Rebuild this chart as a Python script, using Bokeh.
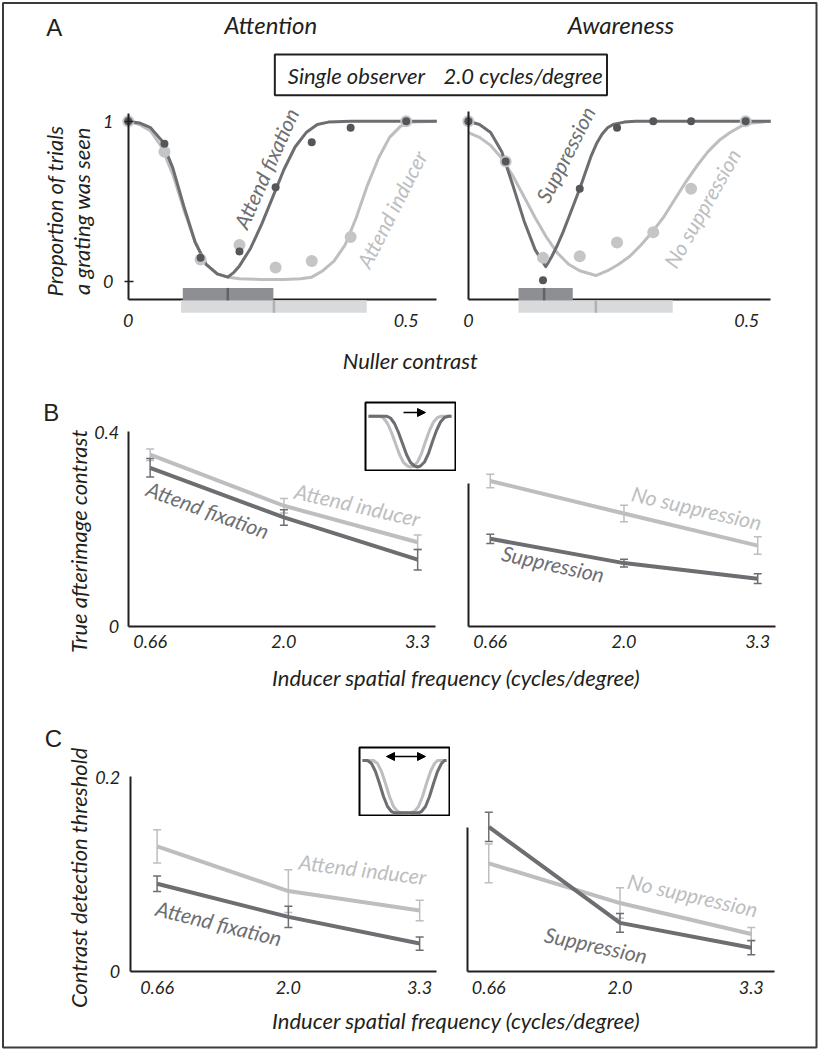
import math
from bokeh.plotting import figure
from bokeh.models import (Range1d, LinearAxis, FixedTicker, GridBox, Arrow, NormalHead,
                          Whisker, TeeHead, ColumnDataSource)
from bokeh.core.properties import value
from bokeh.embed import file_html
from bokeh.resources import INLINE

# ------------------------------------------------------------------ DATA
# Panel A: single observer, 2.0 cycles/degree; nuller contrast vs proportion seen
att_x = [0, 0.065, 0.13, 0.2, 0.265, 0.33, 0.4, 0.5]
att_fix_seen = [1.0, 0.86, 0.15, 0.19, 0.59, 0.87, 0.96, 1.0]
att_ind_seen = [1.0, 0.81, 0.14, 0.23, 0.09, 0.13, 0.28, 1.0]
aw_x = [0, 0.067, 0.134, 0.2, 0.267, 0.332, 0.4, 0.498]
supp_seen = [1.0, 0.75, 0.01, 0.58, 0.96, 1.0, 1.0, 1.0]
nosupp_seen = [1.0, 0.75, 0.15, 0.16, 0.245, 0.31, 0.58, 1.0]

# fitted curves
att_fix_fit_x = [0, 0.02, 0.04, 0.06, 0.08, 0.10, 0.12, 0.14, 0.16, 0.179, 0.19, 0.20, 0.22,
                 0.24, 0.26, 0.28, 0.30, 0.32, 0.34, 0.36, 0.40, 0.555]
att_fix_fit_y = [1.0, 0.99, 0.96, 0.88, 0.71, 0.47, 0.25, 0.11, 0.05, 0.03, 0.06, 0.10, 0.21,
                 0.36, 0.53, 0.70, 0.84, 0.93, 0.98, 0.995, 1.0, 1.0]
att_ind_fit_x = [0, 0.02, 0.04, 0.06, 0.08, 0.10, 0.12, 0.14, 0.16, 0.18, 0.20, 0.24, 0.28,
                 0.31, 0.33, 0.35, 0.37, 0.39, 0.41, 0.43, 0.45, 0.47, 0.49, 0.51, 0.555]
att_ind_fit_y = [1.0, 0.98, 0.94, 0.84, 0.67, 0.45, 0.25, 0.11, 0.05, 0.03, 0.02, 0.015, 0.015,
                 0.02, 0.03, 0.07, 0.13, 0.23, 0.40, 0.60, 0.77, 0.90, 0.97, 0.995, 1.0]
supp_fit_x = [0, 0.02, 0.04, 0.06, 0.08, 0.10, 0.12, 0.139, 0.15, 0.16, 0.17, 0.18, 0.19, 0.20,
              0.21, 0.22, 0.23, 0.24, 0.25, 0.26, 0.28, 0.30, 0.543]
supp_fit_y = [1.0, 0.98, 0.93, 0.81, 0.60, 0.38, 0.20, 0.095, 0.16, 0.23, 0.31, 0.40, 0.49, 0.58,
              0.68, 0.78, 0.86, 0.92, 0.96, 0.98, 0.995, 1.0, 1.0]
nosupp_fit_x = [0, 0.02, 0.04, 0.06, 0.08, 0.10, 0.12, 0.14, 0.16, 0.18, 0.20, 0.229, 0.25, 0.27,
                0.29, 0.31, 0.33, 0.35, 0.37, 0.39, 0.41, 0.43, 0.45, 0.47, 0.49, 0.51, 0.543]
nosupp_fit_y = [0.93, 0.90, 0.85, 0.77, 0.66, 0.53, 0.40, 0.28, 0.18, 0.11, 0.07, 0.04, 0.07, 0.11,
                0.16, 0.23, 0.31, 0.40, 0.51, 0.62, 0.72, 0.81, 0.88, 0.93, 0.97, 0.99, 1.0]

# null ranges under the axis: (low, centre, high)
att_fix_null = [0.098, 0.179, 0.261]
att_ind_null = [0.095, 0.262, 0.429]
supp_null = [0.09, 0.136, 0.1875]
nosupp_null = [0.09, 0.229, 0.367]

# Panels B and C: inducer spatial frequency
sf_labels = ["0.66", "2.0", "3.3"]
sf_pos = [0, 1, 2]

b_att_fix = [0.327, 0.225, 0.138]
b_att_fix_err = [0.019, 0.016, 0.021]
b_att_ind = [0.354, 0.249, 0.174]
b_att_ind_err = [0.012, 0.015, 0.015]
b_supp = [0.181, 0.131, 0.099]
b_supp_err = [0.0095, 0.008, 0.010]
b_nosupp = [0.300, 0.233, 0.167]
b_nosupp_err = [0.014, 0.017, 0.018]

c_att_fix = [0.0905, 0.0565, 0.029]
c_att_fix_err = [0.008, 0.011, 0.0068]
c_att_ind = [0.129, 0.083, 0.063]
c_att_ind_err = [0.017, 0.022, 0.0105]
c_supp = [0.149, 0.0503, 0.0248]
c_supp_err = [0.015, 0.0097, 0.0073]
c_nosupp = [0.1115, 0.0707, 0.0388]
c_nosupp_err = [0.020, 0.0157, 0.0068]

# schematic insets (box units)
ib_light_x = [3, 14, 18, 22, 26, 30, 34, 38, 42, 45, 48, 52, 56, 60, 64, 68, 72, 76, 86]
ib_light_y = [54.3, 54.3, 52.5, 47, 38, 27, 16, 8, 4.5, 3.5, 4.5, 8.5, 17, 29, 40, 48.5, 53, 54.3, 54.3]
ib_dark_x = [3, 21, 25, 29, 33, 37, 41, 45, 49, 52, 55, 59, 63, 67, 71, 75, 79, 83, 86]
ib_dark_y = [54.3, 54.3, 52.5, 47, 38, 27, 16, 8, 4.5, 3.5, 4.5, 8.5, 17, 29, 40, 48.5, 53, 54.3, 54.3]
ib_arrow = [38, 60, 58]          # x start, x end, y

ic_dark_x = [3, 8, 12, 16, 20, 24, 28, 32, 35, 40, 50, 59, 62, 66, 70, 74, 78, 82, 85, 87]
ic_dark_y = [55, 55, 52, 44, 32, 19, 9, 4, 2.7, 2.7, 2.7, 2.7, 4, 9, 19, 32, 44, 52, 55, 55]
ic_light_x = [3, 14, 18, 22, 26, 30, 34, 38, 42, 47, 51, 55, 59, 63, 67, 71, 75, 78, 87]
ic_light_y = [55, 55, 52, 44, 32, 19, 9, 4, 2.7, 2.7, 2.7, 4, 9, 19, 32, 44, 52, 55, 55]
ic_arrow = [27, 66, 59]

# ------------------------------------------------------------------ STYLE
FONT = "Lato"
INK = "#231f20"
DARK = "#6d6e71"
LIGHT = "#bcbec0"
DARK_PT = "#55565a"
LIGHT_PT = "#c4c5c7"
PAGE_W, PAGE_H = 819, 1050


def panel(fx0, fy0, fx1, fy1, x0px, xppu, y0px, yppu):
    xr = Range1d((fx0 - x0px) / xppu, (fx1 - x0px) / xppu)
    yr = Range1d((y0px - fy1) / yppu, (y0px - fy0) / yppu)
    f = figure(width=fx1 - fx0, height=fy1 - fy0, x_range=xr, y_range=yr,
               x_axis_location=None, y_axis_location=None, toolbar_location=None,
               output_backend="svg", min_border=0, background_fill_color=None,
               border_fill_color=None, outline_line_color=None)
    f.xgrid.visible = False
    f.ygrid.visible = False
    f.margin = (fy0, 0, 0, fx0)
    return f


def axis(f, where, fixed, bounds, ticks, labels, standoff, tick_in=0, tick_out=0):
    ax = LinearAxis(fixed_location=fixed, bounds=bounds, ticker=FixedTicker(ticks=ticks),
                    major_label_overrides=dict(zip(ticks, labels)),
                    axis_line_color=INK, axis_line_width=2,
                    major_tick_line_color=INK, major_tick_line_width=1.5,
                    major_tick_in=tick_in, major_tick_out=tick_out,
                    minor_tick_in=0, minor_tick_out=0,
                    major_label_standoff=standoff,
                    major_label_text_font=FONT, major_label_text_font_size="18px",
                    major_label_text_font_style="italic", major_label_text_color=INK)
    f.add_layout(ax, where)
    return ax


# ------------------------------------------------------------------ PAGE
page = figure(width=PAGE_W, height=PAGE_H, x_range=Range1d(0, PAGE_W), y_range=Range1d(PAGE_H, 0),
              x_axis_location=None, y_axis_location=None, toolbar_location=None,
              output_backend="svg", min_border=0, outline_line_color=None,
              background_fill_color="white", border_fill_color="white")
page.xgrid.visible = False
page.ygrid.visible = False
page.margin = (0, 0, 0, 0)
page.quad(left=[1.5], right=[817], top=[1.5], bottom=[1048], fill_color=None,
          line_color="#3a3a3a", line_width=2)
page.quad(left=[274], right=[607], top=[53], bottom=[94], fill_color=None,
          line_color=INK, line_width=2)


def txt(x, y, s, size, color=INK, angle=0.0, style="italic", font=FONT, align="center"):
    page.text(x=[x], y=[y], text=[s], angle=math.radians(angle), text_font=value(font),
              text_font_size=f"{size}px", text_font_style=style, text_color=color,
              text_align=align, text_baseline="middle")


txt(53, 26, "A", 24, style="normal", font="Liberation Sans")
txt(50, 412, "B", 24, style="normal", font="Liberation Sans")
txt(52, 738, "C", 24, style="normal", font="Liberation Sans")
txt(270, 23, "Attention", 24)
txt(621, 23, "Awareness", 24)
txt(287, 74, "Single observer", 22, align="left")
txt(443, 74, "2.0 cycles/degree", 22, align="left")
txt(53, 210, "Proportion of trials", 22, angle=90)
txt(80, 210, "a grating was seen", 22, angle=90)
txt(410, 360, "Nuller contrast", 22)
txt(77, 541, "True afterimage contrast", 22, angle=90)
txt(456, 677, "Inducer spatial frequency (cycles/degree)", 22)
txt(77, 878, "Contrast detection threshold", 22, angle=90)
txt(456, 1021, "Inducer spatial frequency (cycles/degree)", 22)

# series labels
txt(265, 167, "Attend fixation", 21, DARK, 66)
txt(391, 208, "Attend inducer", 21, LIGHT, 63)
txt(565, 153, "Suppression", 21, DARK, 63)
txt(702, 207, "No suppression", 21, LIGHT, 60.5)
txt(207, 509, "Attend fixation", 21, DARK, -20)
txt(357, 504, "Attend inducer", 21, LIGHT, -13)
txt(697, 507, "No suppression", 21, LIGHT, -13)
txt(553, 563, "Suppression", 21, DARK, -12.5)
txt(362, 869, "Attend inducer", 21, LIGHT, -7)
txt(218, 923, "Attend fixation", 21, DARK, -14)
txt(693, 895, "No suppression", 21, LIGHT, -12.7)
txt(596, 945, "Suppression", 21, DARK, -12.3)

children = [(page, 0, 0)]

# ------------------------------------------------------------------ PANEL A


def psychometric(f, fx, fyl, fxd, fyd, px, pl, pd, null_l, null_d, ypx):
    # null ranges (bands just under the x axis)
    d_top, d_bot = ypx(288), ypx(300.5)
    l_top, l_bot = ypx(300.5), ypx(313)
    f.quad(left=[null_l[0]], right=[null_l[2]], top=[l_top], bottom=[l_bot],
           fill_color="#d9dadb", line_color=None, level="overlay")
    f.segment(x0=[null_l[1]], x1=[null_l[1]], y0=[l_top], y1=[l_bot],
              line_color="#b0b1b3", line_width=2.5, level="overlay")
    f.quad(left=[null_d[0]], right=[null_d[2]], top=[d_top], bottom=[d_bot],
           fill_color="#8e8f92", line_color=None, level="overlay")
    f.segment(x0=[null_d[1]], x1=[null_d[1]], y0=[d_top], y1=[d_bot],
              line_color="#616265", line_width=2.5, level="overlay")
    f.line(fx, fyl, line_color=LIGHT, line_width=3, line_join="round")
    f.line(fxd, fyd, line_color=DARK, line_width=3, line_join="round")
    f.scatter(px, pl, size=12, fill_color=LIGHT_PT, line_color=None)
    f.scatter(px, pd, size=8, fill_color=DARK_PT, line_color=None)


def ya(px):
    return (282 - px) / 162


pa1 = panel(95, 95, 445, 340, 127, 559, 282, 162)
psychometric(pa1, att_ind_fit_x, att_ind_fit_y, att_fix_fit_x, att_fix_fit_y,
             att_x, att_ind_seen, att_fix_seen, att_ind_null, att_fix_null, ya)
axis(pa1, "left", 0, (ya(300), ya(112)), [0, 1], ["0", "1"], 11, tick_in=5, tick_out=4)
axis(pa1, "below", ya(300), (0, (437 - 127) / 559), [0, 0.5], ["0", "0.5"], 14)

pa2 = panel(447, 95, 795, 340, 467, 560, 282, 162)
psychometric(pa2, nosupp_fit_x, nosupp_fit_y, supp_fit_x, supp_fit_y,
             aw_x, nosupp_seen, supp_seen, nosupp_null, supp_null, ya)
axis(pa2, "left", 0, (ya(300), ya(110)), [], [], 11)
axis(pa2, "below", ya(300), (0, (771 - 467) / 560), [0, 0.5], ["0", "0.5"], 14)
children += [(pa1, 0, 0), (pa2, 0, 0)]

# ------------------------------------------------------------------ PANELS B, C


def freq_panel(f, light, light_err, dark, dark_err):
    for vals, errs, col in ((light, light_err, LIGHT), (dark, dark_err, DARK)):
        f.line(sf_pos, vals, line_color=col, line_width=4, line_join="round")
        src = ColumnDataSource(dict(x=sf_pos, lo=[v - e for v, e in zip(vals, errs)],
                                    hi=[v + e for v, e in zip(vals, errs)]))
        f.add_layout(Whisker(source=src, base="x", lower="lo", upper="hi",
                             line_color=col, line_width=1.5,
                             lower_head=TeeHead(size=8, line_color=col, line_width=1.5),
                             upper_head=TeeHead(size=8, line_color=col, line_width=1.5)))


pb1 = panel(85, 415, 447, 660, 149, 134.5, 627, 490)
freq_panel(pb1, b_att_ind, b_att_ind_err, b_att_fix, b_att_fix_err)
axis(pb1, "left", (127 - 149) / 134.5, (0, 0.402), [0, 0.4], ["0", "0.4"], 9)
axis(pb1, "below", 0, ((127 - 149) / 134.5, (436 - 149) / 134.5), sf_pos, sf_labels, 8)

pb2 = panel(449, 415, 795, 660, 489, 134.5, 627, 490)
freq_panel(pb2, b_nosupp, b_nosupp_err, b_supp, b_supp_err)
axis(pb2, "left", (467 - 489) / 134.5, (0, (627 - 483) / 490), [], [], 9)
axis(pb2, "below", 0, ((467 - 489) / 134.5, (776 - 489) / 134.5), sf_pos, sf_labels, 8)

pc1 = panel(85, 760, 447, 1005, 156, 132, 972, 980)
freq_panel(pc1, c_att_ind, c_att_ind_err, c_att_fix, c_att_fix_err)
axis(pc1, "left", (129 - 156) / 132, (0, 0.201), [0, 0.2], ["0", "0.2"], 10)
axis(pc1, "below", 0, ((129 - 156) / 132, (437 - 156) / 132), sf_pos, sf_labels, 9)

pc2 = panel(449, 760, 795, 1005, 487.5, 132, 972, 980)
freq_panel(pc2, c_nosupp, c_nosupp_err, c_supp, c_supp_err)
axis(pc2, "left", (466 - 487.5) / 132, (0, (972 - 826.7) / 980), [], [], 10)
axis(pc2, "below", 0, ((466 - 487.5) / 132, (775 - 487.5) / 132), sf_pos, sf_labels, 9)
children += [(pb1, 0, 0), (pb2, 0, 0), (pc1, 0, 0), (pc2, 0, 0)]

# ------------------------------------------------------------------ INSETS


def inset(left, top, lx, ly, dx, dy, arr, double):
    f = figure(width=92, height=70, x_range=Range1d(0, 90), y_range=Range1d(0, 68),
               x_axis_location=None, y_axis_location=None, toolbar_location=None,
               output_backend="svg", min_border=1, background_fill_color="white",
               border_fill_color="white", outline_line_color="black", outline_line_width=2)
    f.xgrid.visible = False
    f.ygrid.visible = False
    f.margin = (top, 0, 0, left)
    f.line(lx, ly, line_color=LIGHT, line_width=3, line_join="round")
    f.line(dx, dy, line_color=DARK, line_width=3, line_join="round")
    f.add_layout(Arrow(x_start=arr[0], x_end=arr[1], y_start=arr[2], y_end=arr[2],
                       line_color="black", line_width=1.5,
                       end=NormalHead(size=8, fill_color="black", line_color="black"),
                       start=NormalHead(size=8, fill_color="black", line_color="black") if double else None))
    return f


ib = inset(364, 401, ib_light_x, ib_light_y, ib_dark_x, ib_dark_y, ib_arrow, False)
ic = inset(358, 746, ic_light_x, ic_light_y, ic_dark_x, ic_dark_y, ic_arrow, True)
children += [(ib, 0, 0), (ic, 0, 0)]

layout = GridBox(children=children)
open("out.html", "w").write(file_html(layout, INLINE))
